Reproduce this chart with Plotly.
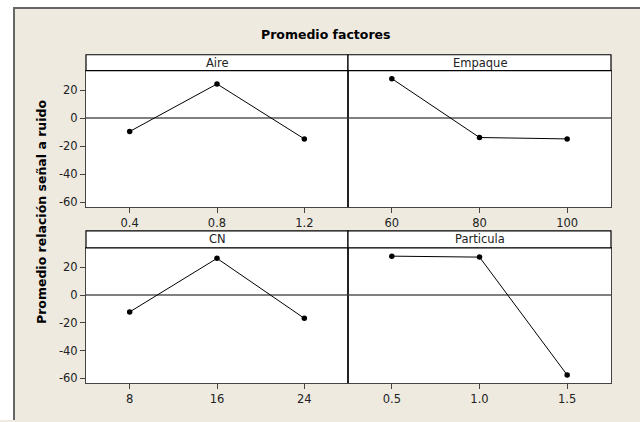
import plotly.graph_objects as go

# ---- data ----
factors = ["Aire", "Empaque", "CN", "Particula"]
aire_levels = [0.4, 0.8, 1.2]
aire_means = [-9.5, 24.5, -14.8]
empaque_levels = [60, 80, 100]
empaque_means = [28.3, -13.8, -14.8]
cn_levels = [8, 16, 24]
cn_means = [-12.2, 26.4, -16.8]
particula_levels = [0.5, 1.0, 1.5]
particula_means = [28.0, 27.3, -57.6]

x_ticks = [
    ([0.4, 0.8, 1.2], ["0.4", "0.8", "1.2"]),
    ([60, 80, 100], ["60", "80", "100"]),
    ([8, 16, 24], ["8", "16", "24"]),
    ([0.5, 1.0, 1.5], ["0.5", "1.0", "1.5"]),
]
x_ranges = [[0.2, 1.4], [50, 110], [4, 28], [0.25, 1.75]]
y_ticks = [20, 0, -20, -40, -60]
y_range = [-63.5, 34]

W, H = 640, 422
def px(x): return x / W
def py(y): return 1 - y / H

FONT = "DejaVu Sans"
TXT = "#222222"
FRAME = "#444444"
BEIGE = "#EEEAE0"

fig = go.Figure()

series = [
    (aire_levels, aire_means),
    (empaque_levels, empaque_means),
    (cn_levels, cn_means),
    (particula_levels, particula_means),
]

# panel geometry (pixels)
cols = [(86, 348), (348, 611)]
rows = [(71, 208), (249, 385)]
strips = [(55, 71), (232, 249)]

layout_axes = {}
for i, (xs, ys) in enumerate(series):
    r, c = divmod(i, 2)
    n = i + 1
    xa = "x" if n == 1 else f"x{n}"
    ya = "y" if n == 1 else f"y{n}"
    fig.add_trace(go.Scatter(
        x=xs, y=ys, xaxis=xa, yaxis=ya, mode="lines+markers",
        line=dict(color="black", width=1),
        marker=dict(color="black", size=5.5),
        showlegend=False, hoverinfo="x+y",
    ))
    xk = "xaxis" if n == 1 else f"xaxis{n}"
    yk = "yaxis" if n == 1 else f"yaxis{n}"
    x0, x1 = cols[c]
    y0, y1 = rows[r]
    layout_axes[xk] = dict(
        domain=[px(x0), px(x1)], anchor=ya, range=x_ranges[i],
        tickvals=x_ticks[i][0], ticktext=x_ticks[i][1],
        ticks="outside", ticklen=5, tickcolor=FRAME,
        showgrid=False, zeroline=False,
        showline=True, linecolor=FRAME, linewidth=1, mirror=True,
        tickfont=dict(family=FONT, size=11.5, color=TXT),
    )
    layout_axes[yk] = dict(
        domain=[py(y1), py(y0)], anchor=xa, range=y_range,
        tickvals=y_ticks, ticktext=[str(v) for v in y_ticks],
        ticks="outside" if c == 0 else "", ticklen=5, tickcolor=FRAME,
        showticklabels=(c == 0),
        showgrid=False, zeroline=True, zerolinecolor="#808080", zerolinewidth=1.5,
        showline=True, linecolor=FRAME, linewidth=1, mirror=True,
        tickfont=dict(family=FONT, size=11.5, color=TXT),
    )

shapes = []
annotations = []
# white areas outside the outer beige frame
shapes.append(dict(type="rect", xref="paper", yref="paper", x0=0, x1=1, y0=py(7), y1=1,
                   fillcolor="white", line=dict(width=0), layer="below"))
shapes.append(dict(type="rect", xref="paper", yref="paper", x0=0, x1=px(13), y0=0, y1=1,
                   fillcolor="white", line=dict(width=0), layer="below"))
# outer frame lines (top and left)
shapes.append(dict(type="line", xref="paper", yref="paper", x0=px(13), x1=1, y0=py(8), y1=py(8),
                   line=dict(color="#666666", width=2)))
shapes.append(dict(type="line", xref="paper", yref="paper", x0=px(14), x1=px(14), y0=0, y1=py(8),
                   line=dict(color="#666666", width=2)))

# strips
for i, name in enumerate(factors):
    r, c = divmod(i, 2)
    x0, x1 = cols[c]
    s0, s1 = strips[r]
    shapes.append(dict(type="rect", xref="paper", yref="paper",
                       x0=px(x0), x1=px(x1), y0=py(s1), y1=py(s0),
                       fillcolor="white", line=dict(color="black", width=1.2)))
    annotations.append(dict(text=name, xref="paper", yref="paper",
                            x=px((x0 + x1) / 2), y=py((s0 + s1) / 2),
                            showarrow=False, xanchor="center", yanchor="middle",
                            font=dict(family=FONT, size=11.5, color=TXT)))

# vertical divider
for (y0, y1) in rows:
    shapes.append(dict(type="line", xref="paper", yref="paper", x0=px(348), x1=px(348),
                       y0=py(y1), y1=py(y0), line=dict(color="black", width=1)))

annotations.append(dict(text="<b>Promedio factores</b>", xref="paper", yref="paper",
                        x=px(326), y=py(35), showarrow=False, xanchor="center", yanchor="middle",
                        font=dict(family=FONT, size=12.5, color="black")))
annotations.append(dict(text="<b>Promedio relación señal a ruido</b>", xref="paper", yref="paper",
                        x=px(42), y=py(213), showarrow=False, textangle=-90,
                        xanchor="center", yanchor="middle",
                        font=dict(family=FONT, size=12.5, color="black")))

fig.update_layout(
    width=W, height=H,
    margin=dict(l=0, r=0, t=0, b=0),
    paper_bgcolor=BEIGE, plot_bgcolor="white",
    shapes=shapes, annotations=annotations,
    **layout_axes,
)

page_js = (
    "var bg='linear-gradient(to right, #ffffff 13px, #666666 13px, #666666 15px, #EEEAE0 15px)';"
    "document.documentElement.style.margin='0';document.documentElement.style.background=bg;"
    "document.body.style.margin='0';document.body.style.padding='0';"
    "document.body.style.overflow='hidden';document.body.style.background=bg;"
)

fig.write_html(
    "out.html",
    config={"displayModeBar": False},
    post_script=page_js,
)
